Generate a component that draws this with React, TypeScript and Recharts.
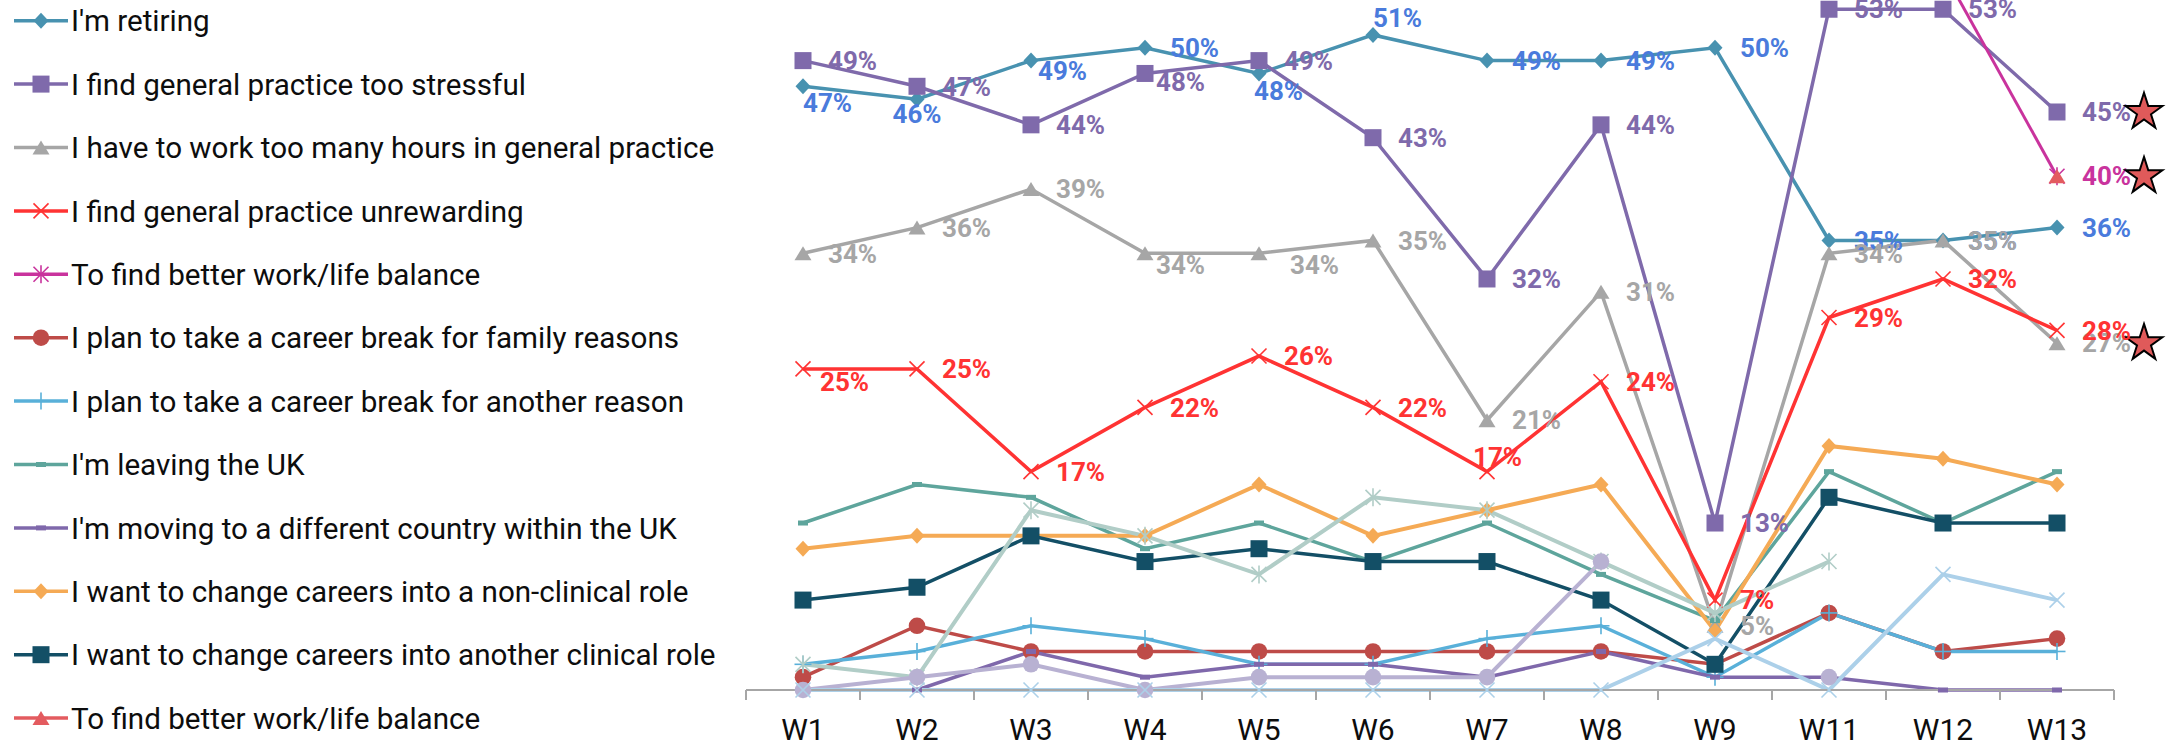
import React from "react"
import { LineChart, Line, XAxis, YAxis, Legend, LabelList } from "recharts"

const weeks = ["W1", "W2", "W3", "W4", "W5", "W6", "W7", "W8", "W9", "W11", "W12", "W13"]

const retiring = [47, 46, 49, 50, 48, 51, 49, 49, 50, 35, 35, 36]
const tooStressful = [49, 47, 44, 48, 49, 43, 32, 44, 13, 53, 53, 45]
const tooManyHours = [34, 36, 39, 34, 34, 35, 21, 31, 5, 34, 35, 27]
const unrewarding = [25, 25, 17, 22, 26, 22, 17, 24, 7, 29, 32, 28]
const workLifeStar = [null, null, null, null, null, null, null, null, null, null, 56, 40]
const breakFamily = [1, 5, 3, 3, 3, 3, 3, 3, 2, 6, 3, 4]
const breakOther = [2, 3, 5, 4, 2, 2, 4, 5, 1, 6, 3, 3]
const leavingUk = [13, 16, 15, 11, 13, 10, 13, 9, 5.4, 17, 13, 17]
const movingWithinUk = [0, 0, 3, 1, 2, 2, 1, 3, 1, 1, 0, 0]
const nonClinical = [11, 12, 12, 12, 16, 12, 14, 16, 4.6, 19, 18, 16]
const otherClinical = [7, 8, 12, 10, 11, 10, 10, 7, 2, 15, 13, 13]
const workLifeTriangle = [null, null, null, null, null, null, null, null, null, null, null, 40]
// series whose legend entries fall below the visible area
const unlistedA = [2, 1, 14, 12, 9, 15, 14, 10, 6, 10, null, null]
const unlistedB = [0, 1, 2, 0, 1, 1, 1, 10, null, 1, null, null]
const unlistedC = [0, 0, 0, 0, 0, 0, 0, 0, 4, 0, 9, 7]

// points flagged with a star next to their label
const starred = [
  { key: "tooStressful", week: "W13" },
  { key: "workLifeStar", week: "W13" },
  { key: "tooManyHours", week: "W13" },
]

type Shape = "diamond" | "square" | "triangle" | "x" | "asterisk" | "circle" | "plus" | "dash"

const series = [
  { key: "retiring", name: "I'm retiring", values: retiring, color: "#4892b0", shape: "diamond", width: 3.5, labelColor: "#4a7bdc", legend: true },
  { key: "tooStressful", name: "I find general practice too stressful", values: tooStressful, color: "#7f6aab", shape: "square", width: 3.5, labelColor: "#7f6aab", legend: true },
  { key: "tooManyHours", name: "I have to work too many hours in general practice", values: tooManyHours, color: "#a6a6a6", shape: "triangle", width: 3.5, labelColor: "#a6a6a6", legend: true },
  { key: "unrewarding", name: "I find general practice unrewarding", values: unrewarding, color: "#ff3333", shape: "x", width: 3.5, labelColor: "#ff3333", legend: true },
  { key: "workLifeStar", name: "To find better work/life balance", values: workLifeStar, color: "#c9339d", shape: "asterisk", width: 3, labelColor: "#c9339d", legend: true },
  { key: "breakFamily", name: "I plan to take a career break for family reasons", values: breakFamily, color: "#be4b48", shape: "circle", width: 3.5, legend: true },
  { key: "breakOther", name: "I plan to take a career break for another reason", values: breakOther, color: "#59b0d9", shape: "plus", width: 3.5, legend: true },
  { key: "leavingUk", name: "I'm leaving the UK", values: leavingUk, color: "#5ea59c", shape: "dash", width: 3.5, legend: true },
  { key: "movingWithinUk", name: "I'm moving to a different country within the UK", values: movingWithinUk, color: "#7f68ab", shape: "dash", width: 3.5, legend: true },
  { key: "nonClinical", name: "I want to change careers into a non-clinical role", values: nonClinical, color: "#f5aa55", shape: "diamond", width: 4, legend: true },
  { key: "otherClinical", name: "I want to change careers into another clinical role", values: otherClinical, color: "#134f66", shape: "square", width: 3.5, legend: true },
  { key: "workLifeTriangle", name: "To find better work/life balance", values: workLifeTriangle, color: "#e35b5f", shape: "triangle", width: 3.5, legend: true },
  { key: "unlistedA", name: "unlistedA", values: unlistedA, color: "#b1cdc7", shape: "asterisk", width: 4, legend: false },
  { key: "unlistedB", name: "unlistedB", values: unlistedB, color: "#b8b1d2", shape: "circle", width: 4, legend: false },
  { key: "unlistedC", name: "unlistedC", values: unlistedC, color: "#acd0e9", shape: "x", width: 4, legend: false },
] as { key: string; name: string; values: (number | null)[]; color: string; shape: Shape; width: number; labelColor?: string; legend: boolean }[]

const rows = weeks.map((week, i) => {
  const row: Record<string, any> = { week }
  series.forEach(s => { row[s.key] = s.values[i] })
  return row
})

// label placement tweaks (dx, dy, anchor) per series / point index; default sits to the right
const labelNudges: Record<string, Record<number, [number, number, string?]>> = {
  retiring: { 0: [0, 16], 1: [0, 15, "middle"], 2: [7, 10], 4: [-5, 17], 5: [0, -17] },
  tooStressful: { 3: [11, 8] },
  tooManyHours: { 3: [11, 11], 4: [31, 11] },
  unrewarding: { 0: [17, 13], 6: [-14, -15] },
}

const FONT = "Roboto, 'Noto Sans', sans-serif"
const HALF_BAND = 57

function starPath(cx: number, cy: number, R: number, r: number) {
  let d = ""
  for (let i = 0; i < 10; i++) {
    const rad = i % 2 === 0 ? R : r
    const a = -Math.PI / 2 + (i * Math.PI) / 5
    d += (i ? "L" : "M") + (cx + rad * Math.cos(a)).toFixed(1) + "," + (cy + rad * Math.sin(a)).toFixed(1)
  }
  return d + "Z"
}

function Marker({ shape, cx, cy, color }: { shape: Shape; cx: number; cy: number; color: string }) {
  if (cx == null || cy == null || isNaN(cx) || isNaN(cy)) return null
  switch (shape) {
    case "diamond":
      return <polygon points={`${cx},${cy - 8} ${cx + 7.5},${cy} ${cx},${cy + 8} ${cx - 7.5},${cy}`} fill={color} />
    case "square":
      return <rect x={cx - 8.5} y={cy - 8.5} width={17} height={17} fill={color} />
    case "triangle":
      return <polygon points={`${cx},${cy - 7} ${cx + 8.5},${cy + 7} ${cx - 8.5},${cy + 7}`} fill={color} />
    case "x":
      return (
        <g stroke={color} strokeWidth={1.6}>
          <line x1={cx - 7.5} y1={cy - 7.5} x2={cx + 7.5} y2={cy + 7.5} />
          <line x1={cx - 7.5} y1={cy + 7.5} x2={cx + 7.5} y2={cy - 7.5} />
        </g>
      )
    case "asterisk":
      return (
        <g stroke={color} strokeWidth={1.6}>
          <line x1={cx - 7.5} y1={cy - 7.5} x2={cx + 7.5} y2={cy + 7.5} />
          <line x1={cx - 7.5} y1={cy + 7.5} x2={cx + 7.5} y2={cy - 7.5} />
          <line x1={cx} y1={cy - 9} x2={cx} y2={cy + 9} />
        </g>
      )
    case "circle":
      return <circle cx={cx} cy={cy} r={8.3} fill={color} />
    case "plus":
      return (
        <g stroke={color} strokeWidth={1.6}>
          <line x1={cx} y1={cy - 8.5} x2={cx} y2={cy + 8.5} />
          <line x1={cx - 8.5} y1={cy} x2={cx + 8.5} y2={cy} />
        </g>
      )
    case "dash":
      return <rect x={cx - 5} y={cy - 2.5} width={10} height={5} fill={color} />
  }
  return null
}

function LegendBlock() {
  const items = series.filter(s => s.legend)
  return (
    <svg width={740} height={744}>
      {items.map((s, i) => {
        const cy = 20.7 + i * 63.4
        return (
          <g key={s.key}>
            <line x1={14} x2={68} y1={cy} y2={cy} stroke={s.color} strokeWidth={3.5} />
            <Marker shape={s.shape} cx={41} cy={cy} color={s.color} />
            <text x={71} y={cy + 10.6} fontSize={29.6} fontFamily={FONT} fill="#0d0d0d">
              {s.name}
            </text>
          </g>
        )
      })}
    </svg>
  )
}

function WeekTick(props: any) {
  const { x, y, payload, index } = props
  return (
    <g>
      <line x1={x - HALF_BAND} x2={x - HALF_BAND} y1={y} y2={y + 10} stroke="#a6a6a6" strokeWidth={2} />
      {index === weeks.length - 1 && (
        <line x1={x + HALF_BAND} x2={x + HALF_BAND} y1={y} y2={y + 10} stroke="#a6a6a6" strokeWidth={2} />
      )}
      <text x={x} y={y + 50} textAnchor="middle" fontSize={30} fontFamily={FONT} fill="#0d0d0d">
        {payload.value}
      </text>
    </g>
  )
}

const makeLabel = (s: (typeof series)[number]) => (p: any) => {
  const vb = p.viewBox || {}
  const x = vb.x ?? p.x
  const y = vb.y ?? p.y
  const v = p.value
  if (v == null || x == null || y == null) return null
  const [dx, dy, anchor] = labelNudges[s.key]?.[p.index] ?? [25, 0, "start"]
  const fs = 26
  const hasStar = starred.some(st => st.key === s.key && weeks[p.index] === st.week)
  return (
    <g>
      <text
        x={x + dx}
        y={y + dy + fs * 0.355}
        textAnchor={anchor ?? "start"}
        fontSize={fs}
        fontWeight={700}
        fontFamily={FONT}
        fill={s.labelColor}
      >
        {`${Math.round(v)}%`}
      </text>
      {hasStar && <path d={starPath(x + 87, y, 19.3, 7.4)} fill="#e05a5a" stroke="#000" strokeWidth={2} />}
    </g>
  )
}

export default function App() {
  return (
    <div style={{ position: "fixed", left: 0, top: 0, width: 2177, height: 744, background: "#fff" }}>
      <LineChart width={2177} height={744} data={rows} margin={{ top: -29.3, right: 63, bottom: 0, left: 746 }}>
        <XAxis
          dataKey="week"
          height={54}
          padding={{ left: HALF_BAND, right: HALF_BAND }}
          axisLine={{ stroke: "#a6a6a6", strokeWidth: 2 }}
          tickLine={false}
          tickSize={0}
          tickMargin={0}
          interval={0}
          tick={<WeekTick />}
        />
        <YAxis hide type="number" domain={[0, 56]} />
        <Legend
          content={() => <LegendBlock />}
          layout="horizontal"
          verticalAlign="middle"
          align="center"
          wrapperStyle={{ left: 0, top: 0, width: 740, height: 744 }}
        />
        {series.map(s => (
          <Line
            key={s.key}
            type="linear"
            dataKey={s.key}
            name={s.name}
            stroke={s.color}
            strokeWidth={s.width}
            isAnimationActive={false}
            legendType={s.legend ? "line" : "none"}
            activeDot={false}
            dot={(p: any) => <Marker key={`${s.key}-${p.index}`} shape={s.shape} cx={p.cx} cy={p.cy} color={s.color} />}
          >
            {s.labelColor && <LabelList dataKey={s.key} content={makeLabel(s)} />}
          </Line>
        ))}
      </LineChart>
    </div>
  )
}
